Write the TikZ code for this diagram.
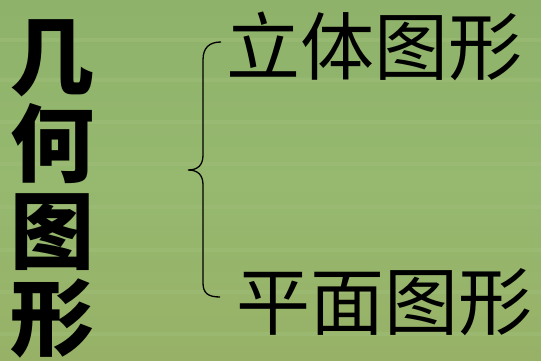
\documentclass[tikz,border=0pt]{standalone}
\usepackage{fontspec}
\newfontfamily\cjk{Noto Sans CJK SC}
\definecolor{bgtop}{HTML}{8EB26A}
\definecolor{bgmid}{HTML}{96B86F}
\definecolor{bgbot}{HTML}{97B267}
\definecolor{stripe}{HTML}{A2C07C}
\begin{document}
\begin{tikzpicture}[x=1pt,y=-1pt,
  title/.style={font=\cjk\bfseries\fontsize{84}{87}\selectfont, align=center, inner sep=0pt, text=black},
  branch/.style={font=\cjk\fontsize{74}{74}\selectfont, inner sep=0pt, text=black},
  bracepath/.style={draw=black, line width=1.3pt}]
\useasboundingbox (0,0) rectangle (541,361);
\shade[top color=bgtop, bottom color=bgbot, middle color=bgmid] (0,0) rectangle (541,361);
\foreach \y in {38,78,120,162,205,248,290,332}
  \fill[stripe, opacity=0.4] (0,\y) rectangle (541,\y+4);
\node[title] (main) at (52,189) {几\\何\\图\\形};
\node[branch] (solid) at (374,46) {立体图形};
\node[branch] (plane) at (384,302) {平面图形};
\coordinate (btop) at (221,42);
\coordinate (btip) at (188,170);
\coordinate (bbot) at (220,297);
\draw[bracepath] (btop) .. controls (209,42) and (203,48) .. (203,60) -- (203,155)
  .. controls (203,165) and (198,170) .. (btip)
  .. controls (198,170) and (203,175) .. (203,185) -- (203,283)
  .. controls (203,293) and (208,297) .. (bbot);
\end{tikzpicture}
\end{document}
